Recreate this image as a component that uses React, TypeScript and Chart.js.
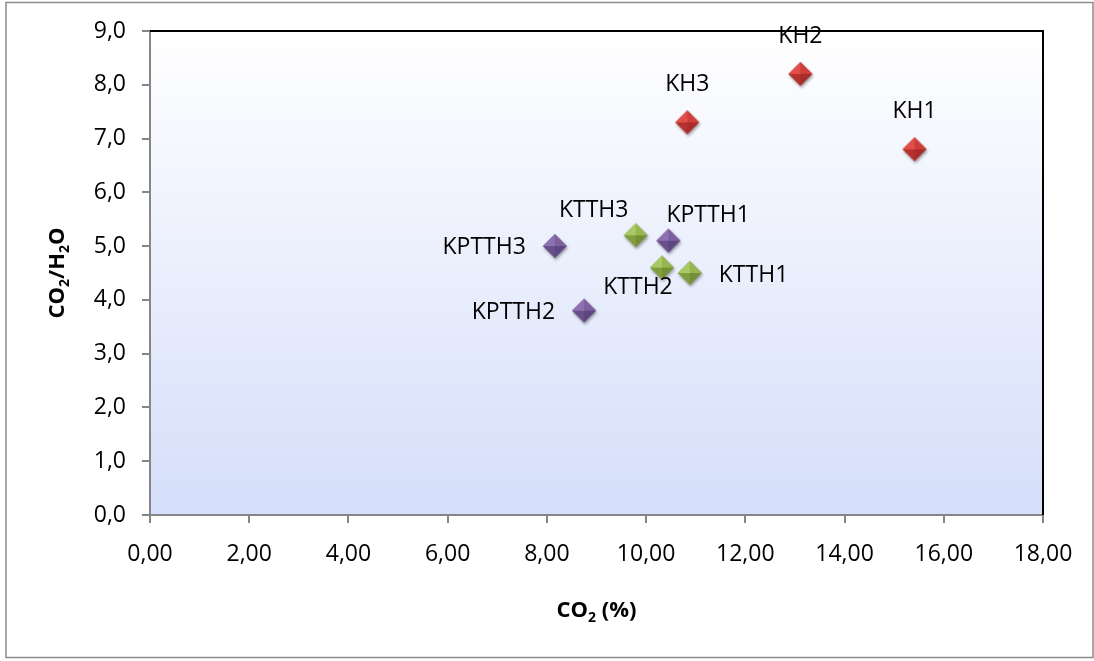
import React, { useEffect, useRef } from 'react';
import { Chart, registerables } from 'chart.js';

Chart.register(...registerables);

// ---------- data ----------
const khNames = ['KH1', 'KH2', 'KH3'];
const khCO2 = [15.41, 13.11, 10.83];
const khRatio = [6.8, 8.2, 7.3];

const ktthNames = ['KTTH1', 'KTTH2', 'KTTH3'];
const ktthCO2 = [10.88, 10.32, 9.79];
const ktthRatio = [4.5, 4.6, 5.2];

const kptthNames = ['KPTTH1', 'KPTTH2', 'KPTTH3'];
const kptthCO2 = [10.45, 8.75, 8.16];
const kptthRatio = [5.1, 3.8, 5.0];

const xMin = 0;
const xMax = 18;
const xStep = 2;
const yMin = 0;
const yMax = 9;
const yStep = 1;

const xTitle = [{ t: 'CO' }, { t: '2', sub: true }, { t: ' (%)' }];
const yTitle = [{ t: 'CO' }, { t: '2', sub: true }, { t: '/H' }, { t: '2', sub: true }, { t: 'O' }];

// ---------- layout / style ----------
type Off = { dx: number; dy: number; align: CanvasTextAlign };
const khLabelPos: Off[] = [
  { dx: 0, dy: -38, align: 'center' },
  { dx: 0, dy: -38, align: 'center' },
  { dx: 0, dy: -38, align: 'center' },
];
const ktthLabelPos: Off[] = [
  { dx: 29, dy: 2, align: 'left' },
  { dx: -24, dy: 20, align: 'center' },
  { dx: -42, dy: -25, align: 'center' },
];
const kptthLabelPos: Off[] = [
  { dx: -2, dy: -25, align: 'left' },
  { dx: -29, dy: 2, align: 'right' },
  { dx: -29, dy: 1, align: 'right' },
];

const FONT = '"Open Sans", "Noto Sans", sans-serif';
const W = 1094;
const H = 661;
const AREA = { left: 150, top: 31, right: 1043, bottom: 515 };

function makeDiamond(light: string, mid: string, dark: string): HTMLCanvasElement {
  const r = 12;
  const pad = 5;
  const size = 2 * (r + pad);
  const c = document.createElement('canvas');
  c.width = size;
  c.height = size;
  const ctx = c.getContext('2d')!;
  const cx = size / 2;
  const cy = size / 2;
  const path = () => {
    ctx.beginPath();
    ctx.moveTo(cx, cy - r);
    ctx.lineTo(cx + r, cy);
    ctx.lineTo(cx, cy + r);
    ctx.lineTo(cx - r, cy);
    ctx.closePath();
  };
  ctx.save();
  ctx.shadowColor = 'rgba(0,0,0,0.35)';
  ctx.shadowBlur = 3;
  ctx.shadowOffsetX = 1;
  ctx.shadowOffsetY = 2;
  path();
  ctx.fillStyle = dark;
  ctx.fill();
  ctx.restore();
  ctx.beginPath();
  ctx.moveTo(cx - r, cy);
  ctx.lineTo(cx, cy - r);
  ctx.lineTo(cx, cy);
  ctx.closePath();
  ctx.fillStyle = light;
  ctx.fill();
  ctx.beginPath();
  ctx.moveTo(cx, cy - r);
  ctx.lineTo(cx + r, cy);
  ctx.lineTo(cx, cy);
  ctx.closePath();
  ctx.fillStyle = mid;
  ctx.fill();
  ctx.beginPath();
  ctx.moveTo(cx - r, cy);
  ctx.lineTo(cx, cy + r);
  ctx.lineTo(cx, cy);
  ctx.closePath();
  ctx.fillStyle = mid;
  ctx.globalAlpha = 0.35;
  ctx.fill();
  ctx.globalAlpha = 1;
  return c;
}

function drawRich(ctx: CanvasRenderingContext2D, parts: { t: string; sub?: boolean }[], x: number, y: number) {
  const big = `bold 22px ${FONT}`;
  const small = `bold 14px ${FONT}`;
  let total = 0;
  const widths = parts.map((p) => {
    ctx.font = p.sub ? small : big;
    const w = ctx.measureText(p.t).width;
    total += w;
    return w;
  });
  let cx = x - total / 2;
  ctx.textAlign = 'left';
  ctx.textBaseline = 'middle';
  parts.forEach((p, i) => {
    ctx.font = p.sub ? small : big;
    ctx.fillText(p.t, cx, p.sub ? y + 7 : y);
    cx += widths[i];
  });
}

const decorPlugin = {
  id: 'decor',
  beforeDraw(chart: any) {
    const { ctx, chartArea: a } = chart;
    ctx.save();
    ctx.fillStyle = '#ffffff';
    ctx.fillRect(0, 0, chart.width, chart.height);
    ctx.strokeStyle = '#8c8c8c';
    ctx.lineWidth = 1.5;
    ctx.strokeRect(6, 2.5, 1087, 655);
    const g = ctx.createLinearGradient(0, a.top, 0, a.bottom);
    g.addColorStop(0, '#ffffff');
    g.addColorStop(1, '#d5defa');
    ctx.fillStyle = g;
    ctx.fillRect(a.left, a.top, a.right - a.left, a.bottom - a.top);
    ctx.restore();
  },
  afterDraw(chart: any) {
    const { ctx, chartArea: a } = chart;
    ctx.save();
    ctx.strokeStyle = '#000000';
    ctx.lineWidth = 2;
    ctx.beginPath();
    ctx.moveTo(a.left, a.top);
    ctx.lineTo(a.right, a.top);
    ctx.lineTo(a.right, a.bottom);
    ctx.stroke();
    ctx.fillStyle = '#000';
    drawRich(ctx, xTitle, (a.left + a.right) / 2, 611);
    ctx.translate(58, (a.top + a.bottom) / 2);
    ctx.rotate(-Math.PI / 2);
    drawRich(ctx, yTitle, 0, 0);
    ctx.restore();
  },
};

const labelPlugin = {
  id: 'pointNames',
  afterDatasetsDraw(chart: any) {
    const ctx = chart.ctx;
    ctx.save();
    ctx.font = `23px ${FONT}`;
    ctx.fillStyle = '#000';
    ctx.textBaseline = 'middle';
    chart.data.datasets.forEach((ds: any, di: number) => {
      const meta = chart.getDatasetMeta(di);
      meta.data.forEach((el: any, i: number) => {
        const o: Off = ds.labelPos[i];
        ctx.textAlign = o.align;
        ctx.fillText(ds.names[i], el.x + o.dx, el.y + o.dy);
      });
    });
    ctx.restore();
  },
};

export default function App() {
  const ref = useRef<HTMLCanvasElement | null>(null);

  useEffect(() => {
    if (!ref.current) return;
    const red = makeDiamond('#e04d4a', '#cf3d3a', '#a82c29');
    const green = makeDiamond('#a9c964', '#97b651', '#748f36');
    const purple = makeDiamond('#8d70b0', '#7c5f9f', '#5e4680');

    const mk = (names: string[], xs: number[], ys: number[], style: HTMLCanvasElement, pos: Off[]) => ({
      names,
      labelPos: pos,
      data: xs.map((x, i) => ({ x, y: ys[i] })),
      pointStyle: style,
      pointRadius: 12,
      showLine: false,
    });

    const chart = new Chart(ref.current, {
      type: 'scatter',
      data: {
        datasets: [
          mk(khNames, khCO2, khRatio, red, khLabelPos),
          mk(ktthNames, ktthCO2, ktthRatio, green, ktthLabelPos),
          mk(kptthNames, kptthCO2, kptthRatio, purple, kptthLabelPos),
        ] as any,
      },
      options: {
        animation: false,
        responsive: false,
        events: [],
        layout: { padding: { left: 0, top: AREA.top, right: W - AREA.right, bottom: 0 } },
        plugins: { legend: { display: false }, tooltip: { enabled: false } },
        scales: {
          x: {
            type: 'linear',
            min: xMin,
            max: xMax,
            afterFit: (s: any) => {
              s.height = H - AREA.bottom;
            },
            ticks: {
              stepSize: xStep,
              color: '#000',
              font: { family: FONT, size: 23 },
              padding: 18,
              maxRotation: 0,
              callback: (v: any) => Number(v).toFixed(2).replace('.', ','),
            },
            grid: { drawOnChartArea: false, drawTicks: true, tickLength: 8, color: '#868686', lineWidth: 2 },
            border: { display: true, color: '#868686', width: 2 },
          },
          y: {
            type: 'linear',
            min: yMin,
            max: yMax,
            afterFit: (s: any) => {
              s.width = AREA.left;
            },
            ticks: {
              stepSize: yStep,
              color: '#000',
              font: { family: FONT, size: 23 },
              padding: 16,
              callback: (v: any) => Number(v).toFixed(1).replace('.', ','),
            },
            grid: { drawOnChartArea: false, drawTicks: true, tickLength: 8, color: '#868686', lineWidth: 2 },
            border: { display: true, color: '#868686', width: 2 },
          },
        },
      },
      plugins: [decorPlugin, labelPlugin],
    } as any);
    return () => chart.destroy();
  }, []);

  return (
    <div style={{ position: 'absolute', left: 0, top: 0, width: W, height: H }}>
      <canvas ref={ref} width={W} height={H} style={{ display: 'block', width: W, height: H }} />
    </div>
  );
}
